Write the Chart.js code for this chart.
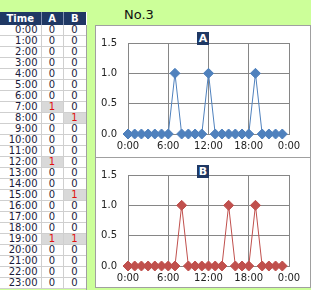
<!DOCTYPE html>
<html>
<head>
<meta charset="utf-8">
<script src="https://cdn.jsdelivr.net/npm/chart.js@4/dist/chart.umd.min.js"></script>
<style>
  body { margin: 0; width: 311px; height: 290px; background: #ccff99; position: relative; overflow: hidden;
         font-family: "DejaVu Sans", Verdana, sans-serif; }
  #title { position: absolute; left: 124px; top: 7px; font-size: 13px; color: #111; }
  #tbl { position: absolute; left: 0; top: 12px; width: 86px; table-layout: fixed; border-collapse: collapse;
         font-size: 10px; background: #fff; }
  #tbl th { background: #1f3864; color: #fff; font-weight: bold; height: 13px; padding: 0;
            border: none; border-left: 1px solid #8090b0; line-height: 12px; }
  #tbl td { height: 10px; padding: 0; line-height: 10px; border: none;
            border-right: 1px solid #cfcfcf; border-bottom: 1px solid #cfcfcf; color: #1a1a3a; }
  #tbl td.t { text-align: right; padding-right: 3px; }
  #tbl td.v { text-align: center; }
  #tbl td.hit { background: #d9d9d9; color: #e01010; }
  #strip { position: absolute; left: 86px; top: 25px; width: 9px; height: 265px; background: #ccff99; border-left: 1px solid #a0a0a0; }
  #box { position: absolute; left: 95px; top: 25px; width: 214px; height: 261px; background: #fff; border: 1px solid #a0a0a0; }
  #sep { position: absolute; left: 95px; top: 157px; width: 216px; height: 1px; background: #a0a0a0; }
  canvas { position: absolute; }
  .tag { position: absolute; width: 12px; height: 13px; background: #1f3864; color: #fff; font-weight: bold;
         font-size: 11px; line-height: 13px; text-align: center; }
</style>
</head>
<body>
<div id="title">No.3</div>
<table id="tbl"><colgroup><col style="width:41px"><col style="width:22px"><col style="width:23px"></colgroup><tbody id="rows"></tbody></table>
<div id="strip"></div>
<div id="box"></div>
<div id="sep"></div>
<canvas id="chartA" width="214" height="130" style="left:96px;top:26px"></canvas>
<canvas id="chartB" width="214" height="129" style="left:96px;top:158px"></canvas>
<div class="tag" style="left:197px;top:32px">A</div>
<div class="tag" style="left:197px;top:165px">B</div>
<script>
var timeLabels = ['0:00', '1:00', '2:00', '3:00', '4:00', '5:00', '6:00', '7:00', '8:00', '9:00', '10:00', '11:00',
    '12:00', '13:00', '14:00', '15:00', '16:00', '17:00', '18:00', '19:00', '20:00', '21:00', '22:00', '23:00'];
var hours = [0, 1, 2, 3, 4, 5, 6, 7, 8, 9, 10, 11, 12, 13, 14, 15, 16, 17, 18, 19, 20, 21, 22, 23];
var seriesA = [0, 0, 0, 0, 0, 0, 0, 1, 0, 0, 0, 0, 1, 0, 0, 0, 0, 0, 0, 1, 0, 0, 0, 0];
var seriesB = [0, 0, 0, 0, 0, 0, 0, 0, 1, 0, 0, 0, 0, 0, 0, 1, 0, 0, 0, 1, 0, 0, 0, 0];
var xTickLabels = ['0:00', '6:00', '12:00', '18:00', '0:00'];
var yTicks = [0, 0.5, 1.0, 1.5];

// table on the left
function buildTable() {
    var html = '<tr><th style="border-left:none">Time</th><th>A</th><th>B</th></tr>';
    for (let i = 0; i < timeLabels.length; i++) {
        html += '<tr><td class="t">' + timeLabels[i] + '</td>' +
            '<td class="v' + (seriesA[i] ? ' hit' : '') + '">' + seriesA[i] + '</td>' +
            '<td class="v' + (seriesB[i] ? ' hit' : '') + '">' + seriesB[i] + '</td></tr>';
    }
    document.getElementById('rows').innerHTML = html;
}

function drawChart(id, values, color, xHeight) {
    var pts = [];
    for (let i = 0; i < hours.length; i++) {
        pts.push({x: hours[i], y: values[i]});
    }
    var grid = {color: '#868686', lineWidth: 1, drawTicks: false};
    new Chart(document.getElementById(id), {
        type: 'line',
        data: {
            datasets: [{
                data: pts,
                borderColor: color,
                backgroundColor: color,
                borderWidth: 1,
                pointStyle: 'rectRot',
                pointRadius: 5,
                pointBorderWidth: 1,
                tension: 0,
                clip: false
            }]
        },
        options: {
            responsive: false,
            animation: false,
            devicePixelRatio: 1,
            layout: {padding: {left: 0, right: 21, top: 9, bottom: 0}},
            plugins: {legend: {display: false}, tooltip: {enabled: false}},
            scales: {
                x: {
                    type: 'linear', min: 0, max: 24,
                    grid: grid,
                    border: {color: '#868686'},
                    afterBuildTicks: function (s) {
                        s.ticks = [0, 6, 12, 18, 24].map(function (v) { return {value: v}; });
                    },
                    afterFit: function (s) { s.height = xHeight; },
                    ticks: {
                        padding: 6, maxRotation: 0, autoSkip: false, color: '#222',
                        font: {family: 'DejaVu Sans', size: 10},
                        callback: function (v, i) { return xTickLabels[i]; }
                    }
                },
                y: {
                    min: 0, max: 1.5,
                    grid: grid,
                    border: {color: '#868686'},
                    afterBuildTicks: function (s) {
                        s.ticks = yTicks.map(function (v) { return {value: v}; });
                    },
                    afterFit: function (s) { s.width = 32; },
                    ticks: {
                        padding: 11, color: '#222',
                        font: {family: 'DejaVu Sans', size: 10},
                        callback: function (v) { return Number(v).toFixed(1); }
                    }
                }
            }
        }
    });
}

buildTable();
drawChart('chartA', seriesA, '#4f81bd', 22);
drawChart('chartB', seriesB, '#c0504d', 21);
</script>
</body>
</html>
